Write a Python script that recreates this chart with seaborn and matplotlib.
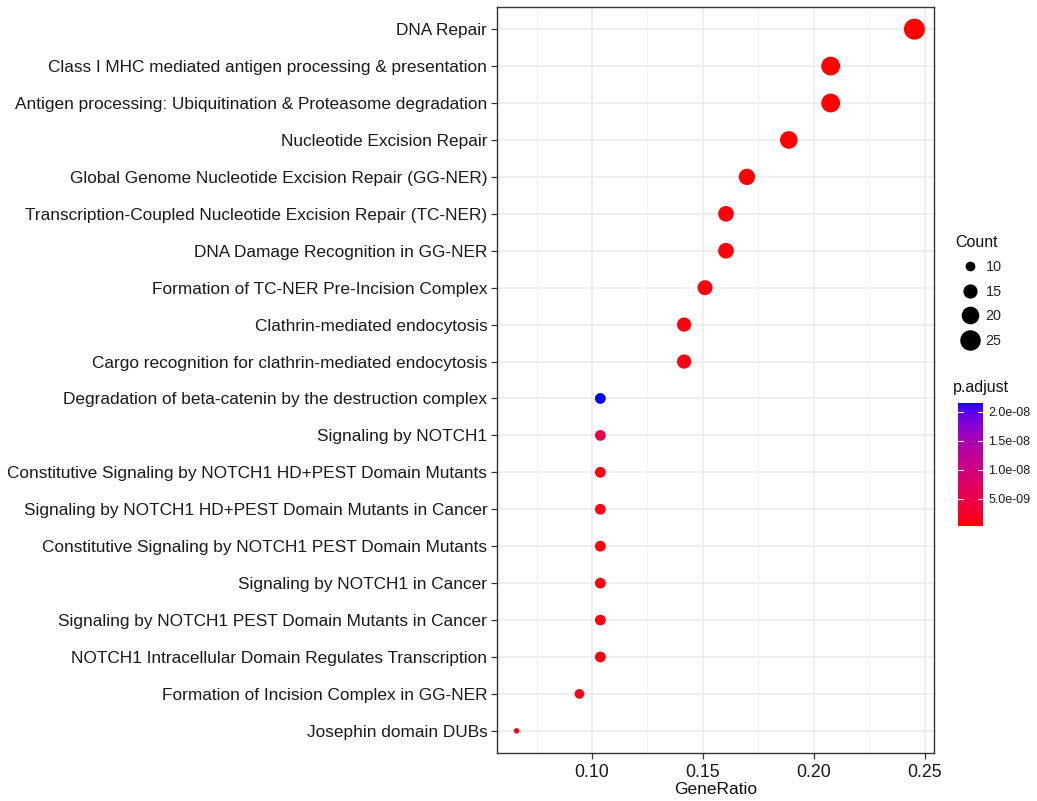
import numpy as np
import pandas as pd
import matplotlib
matplotlib.use("Agg")
import matplotlib.pyplot as plt
import seaborn as sns
from matplotlib.colors import ListedColormap, Normalize
from matplotlib.lines import Line2D
from matplotlib.cm import ScalarMappable

terms = [
    "DNA Repair",
    "Class I MHC mediated antigen processing & presentation",
    "Antigen processing: Ubiquitination & Proteasome degradation",
    "Nucleotide Excision Repair",
    "Global Genome Nucleotide Excision Repair (GG-NER)",
    "Transcription-Coupled Nucleotide Excision Repair (TC-NER)",
    "DNA Damage Recognition in GG-NER",
    "Formation of TC-NER Pre-Incision Complex",
    "Clathrin-mediated endocytosis",
    "Cargo recognition for clathrin-mediated endocytosis",
    "Degradation of beta-catenin by the destruction complex",
    "Signaling by NOTCH1",
    "Constitutive Signaling by NOTCH1 HD+PEST Domain Mutants",
    "Signaling by NOTCH1 HD+PEST Domain Mutants in Cancer",
    "Constitutive Signaling by NOTCH1 PEST Domain Mutants",
    "Signaling by NOTCH1 in Cancer",
    "Signaling by NOTCH1 PEST Domain Mutants in Cancer",
    "NOTCH1 Intracellular Domain Regulates Transcription",
    "Formation of Incision Complex in GG-NER",
    "Josephin domain DUBs",
]
counts = [26, 22, 22, 20, 18, 17, 17, 16, 15, 15, 11, 11, 11, 11, 11, 11, 11, 11, 10, 7]
gene_ratio = [c / 106 for c in counts]
p_adjust = [3.5e-10, 4.0e-10, 4.2e-10, 5.0e-10, 6.0e-10, 7.0e-10, 7.5e-10, 8.0e-10, 9.0e-10, 9.5e-10,
            2.15e-8, 5.2e-9, 1.0e-9, 1.0e-9, 1.0e-9, 1.0e-9, 1.0e-9, 1.0e-9, 1.1e-9, 1.2e-9]
size_breaks = [10, 15, 20, 25]
color_ticks = [5e-9, 1e-8, 1.5e-8, 2e-8]
color_tick_labels = ["5.0e-09", "1.0e-08", "1.5e-08", "2.0e-08"]

df = pd.DataFrame({"Description": terms, "GeneRatio": gene_ratio,
                   "Count": counts, "p.adjust": p_adjust})

# red -> blue gradient interpolated in CIELAB (like ggplot2)
def srgb_to_lab(rgb):
    rgb = np.asarray(rgb, float)
    lin = np.where(rgb <= 0.04045, rgb / 12.92, ((rgb + 0.055) / 1.055) ** 2.4)
    M = np.array([[0.4124, 0.3576, 0.1805], [0.2126, 0.7152, 0.0722], [0.0193, 0.1192, 0.9505]])
    xyz = M @ lin
    wp = np.array([0.95047, 1.0, 1.08883])
    t = xyz / wp
    f = np.where(t > (6 / 29) ** 3, np.cbrt(t), t / (3 * (6 / 29) ** 2) + 4 / 29)
    return np.array([116 * f[1] - 16, 500 * (f[0] - f[1]), 200 * (f[1] - f[2])])

def lab_to_srgb(lab):
    L, a, b = lab
    fy = (L + 16) / 116
    fx = fy + a / 500
    fz = fy - b / 200
    f = np.array([fx, fy, fz])
    t = np.where(f > 6 / 29, f ** 3, 3 * (6 / 29) ** 2 * (f - 4 / 29))
    xyz = t * np.array([0.95047, 1.0, 1.08883])
    Minv = np.array([[3.2406, -1.5372, -0.4986], [-0.9689, 1.8758, 0.0415], [0.0557, -0.2040, 1.0570]])
    lin = Minv @ xyz
    lin = np.clip(lin, 0, 1)
    rgb = np.where(lin <= 0.0031308, 12.92 * lin, 1.055 * lin ** (1 / 2.4) - 0.055)
    return np.clip(rgb, 0, 1)

lab_r = srgb_to_lab([1, 0, 0])
lab_b = srgb_to_lab([0, 0, 1])
cols = [lab_to_srgb(lab_r + (lab_b - lab_r) * t) for t in np.linspace(0, 1, 256)]
cmap = ListedColormap(cols)

sns.set_theme(style="white")
plt.rcParams["font.family"] = ["Liberation Sans", "DejaVu Sans"]

fig = plt.figure(figsize=(10.37, 8.01), dpi=100)
ax = fig.add_axes([497 / 1037, 48 / 801, 437 / 1037, 746 / 801])

pmin, pmax = min(p_adjust), max(p_adjust)
norm = Normalize(pmin, pmax)
smin, smax = 15.7, 228.0

sns.scatterplot(data=df, x="GeneRatio", y="Description", hue="p.adjust", size="Count",
                palette=cmap, hue_norm=norm, sizes=(smin, smax), size_norm=(min(counts), max(counts)),
                linewidth=0, legend=False, ax=ax, zorder=3)

ax.set_ylim(len(terms) - 0.4, -0.6)
ax.set_xlim(0.0572, 0.2541)
ax.set_xticks([0.10, 0.15, 0.20, 0.25])
ax.set_xticklabels(["0.10", "0.15", "0.20", "0.25"])
ax.set_xticks([0.075, 0.125, 0.175, 0.225], minor=True)
ax.grid(True, which="major", color="#EBEBEB", linewidth=1.1, zorder=0)
ax.grid(True, which="minor", axis="x", color="#F2F2F2", linewidth=0.6, zorder=0)
ax.set_axisbelow(True)
for s in ax.spines.values():
    s.set_color("#333333")
    s.set_linewidth(1.0)
ax.tick_params(axis="both", which="major", length=4, width=0.9, color="#333333",
               labelcolor="#1a1a1a", labelsize=12.4, pad=3, bottom=True, left=True)
ax.tick_params(axis="x", which="major", labelsize=12.8, pad=4)
ax.tick_params(axis="x", which="minor", length=0)
ax.set_ylabel("")
ax.set_xlabel("GeneRatio", fontsize=12.5, color="#111111", labelpad=1)

# Count legend
fig.text(955 / 1037, 1 - 242 / 801, "Count", fontsize=11.5, va="center", ha="left", color="#111111")
handles = [Line2D([], [], marker="o", linestyle="", color="black", markeredgewidth=0,
                  markersize=np.sqrt(smin + (smax - smin) * (b - min(counts)) / (max(counts) - min(counts))))
           for b in size_breaks]
leg = fig.legend(handles, [str(b) for b in size_breaks],
                 loc="upper left", bbox_to_anchor=(958 / 1037, 1 - 260 / 801),
                 frameon=False, fontsize=10.4, handletextpad=0.3,
                 labelspacing=0.74, borderaxespad=0, borderpad=0, handlelength=1.6)

# Colorbar legend
fig.text(953 / 1037, 1 - 387 / 801, "p.adjust", fontsize=11.5, va="center", ha="left", color="#111111")
cax = fig.add_axes([958 / 1037, 1 - 526 / 801, 25 / 1037, 123 / 801])
cb = fig.colorbar(ScalarMappable(norm=norm, cmap=cmap), cax=cax)
cb.outline.set_visible(False)
cb.set_ticks(color_ticks)
cb.set_ticklabels(color_tick_labels)
cax.tick_params(length=0, labelsize=9.0, pad=4, labelcolor="#1a1a1a")
for v in color_ticks:
    cax.plot([0, 0.2], [v, v], color="white", lw=0.8)
    cax.plot([0.8, 1.0], [v, v], color="white", lw=0.8)
cax.set_xlim(0, 1)

fig.savefig("out.png", dpi=100, facecolor="white")
